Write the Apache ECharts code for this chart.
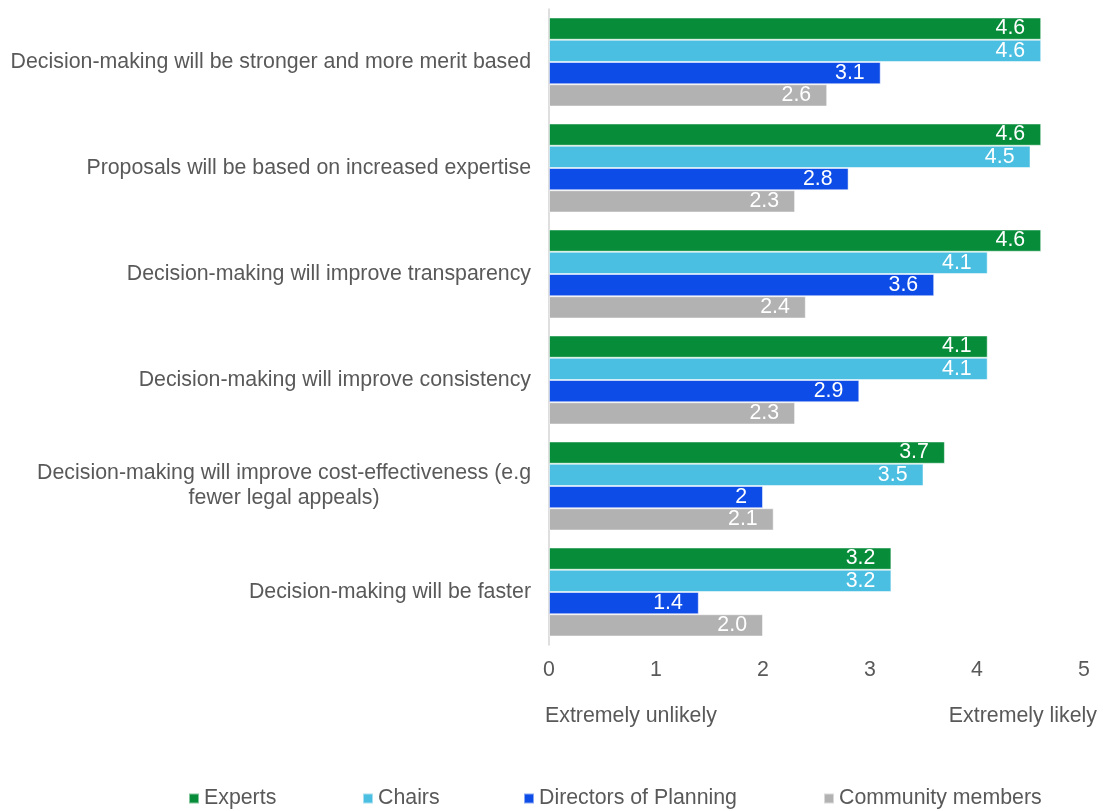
<!DOCTYPE html>
<html>
<head>
<meta charset="utf-8">
<script src="https://cdn.jsdelivr.net/npm/echarts@6/dist/echarts.min.js"></script>
<style>
  html, body { margin: 0; padding: 0; background: #ffffff; }
  #chart { width: 1103px; height: 811px; }
</style>
</head>
<body>
<div id="chart"></div>
<script>
// ---- Data ----
const categories = [
  'Decision-making will be stronger and more merit based',
  'Proposals will be based on increased expertise',
  'Decision-making will improve transparency',
  'Decision-making will improve consistency',
  'Decision-making will improve cost-effectiveness (e.g\nfewer legal appeals)',
  'Decision-making will be faster'
];
const seriesNames = ['Experts', 'Chairs', 'Directors of Planning', 'Community members'];
const experts   = [4.6, 4.6, 4.6, 4.1, 3.7, 3.2];
const chairs    = [4.6, 4.5, 4.1, 4.1, 3.5, 3.2];
const directors = [3.1, 2.8, 3.6, 2.9, 2, 1.4];
const community = [2.6, 2.3, 2.4, 2.3, 2.1, 2.0];
const xTicks = [0, 1, 2, 3, 4, 5];
const scaleEndLabels = ['Extremely unlikely', 'Extremely likely'];

// ---- Styling ----
const FONT = "'Liberation Sans', Arial, sans-serif";
const TEXT = '#595959';
const FS = 21.33;
const colors = ['#078c3a', '#4abfe1', '#0e4ce8', '#b2b2b2'];
const oneDecimal = [false, false, false, true];
const seriesData = [experts, chairs, directors, community];
const legendLefts = [188, 362, 523, 823];

const chart = echarts.init(document.getElementById('chart'), null, { renderer: 'canvas' });

const option = {
  animation: false,
  backgroundColor: '#ffffff',
  textStyle: { fontFamily: FONT },
  grid: { left: 549, right: 19, top: 9, bottom: 166, containLabel: false },
  legend: seriesNames.map((n, i) => ({
    data: [n],
    left: legendLefts[i],
    top: 788,
    padding: 0,
    icon: 'rect',
    itemWidth: 10,
    itemHeight: 10,
    selectedMode: false,
    textStyle: { fontSize: FS, color: TEXT, fontFamily: FONT }
  })),
  xAxis: {
    type: 'value',
    min: xTicks[0],
    max: xTicks[xTicks.length - 1],
    interval: 1,
    axisLine: { show: false },
    axisTick: { show: false },
    splitLine: { show: false },
    axisLabel: { fontSize: FS, color: TEXT, margin: 15, fontFamily: FONT }
  },
  yAxis: {
    type: 'category',
    data: categories,
    inverse: true,
    axisLine: { show: true, lineStyle: { color: '#d4d4d4', width: 1.5 } },
    axisTick: { show: false },
    axisLabel: {
      fontSize: FS,
      color: TEXT,
      margin: 18,
      lineHeight: 25,
      fontFamily: FONT,
      formatter: function (v) {
        const lines = v.split('\n');
        if (lines.length === 1) return v;
        return lines.map(l => '{c|' + l + '}').join('\n');
      },
      rich: {
        c: { align: 'center', fontSize: FS, color: TEXT, lineHeight: 25, fontFamily: FONT }
      }
    }
  },
  graphic: [
    {
      type: 'text',
      left: 545,
      top: 706,
      style: { text: scaleEndLabels[0], fontSize: FS, fill: TEXT, fontFamily: FONT }
    },
    {
      type: 'text',
      right: 6,
      top: 706,
      style: { text: scaleEndLabels[1], fontSize: FS, fill: TEXT, fontFamily: FONT }
    }
  ],
  series: seriesNames.map((n, i) => ({
    name: n,
    type: 'bar',
    data: seriesData[i],
    barGap: '0%',
    barCategoryGap: '16%',
    itemStyle: { color: colors[i], borderColor: 'rgba(255,255,255,0.5)', borderWidth: 1 },
    label: {
      show: true,
      position: 'insideRight',
      distance: 16,
      color: '#ffffff',
      fontSize: FS,
      fontFamily: FONT,
      formatter: function (p) {
        return oneDecimal[i] ? Number(p.value).toFixed(1) : String(p.value);
      }
    }
  }))
};

chart.setOption(option);
</script>
</body>
</html>
